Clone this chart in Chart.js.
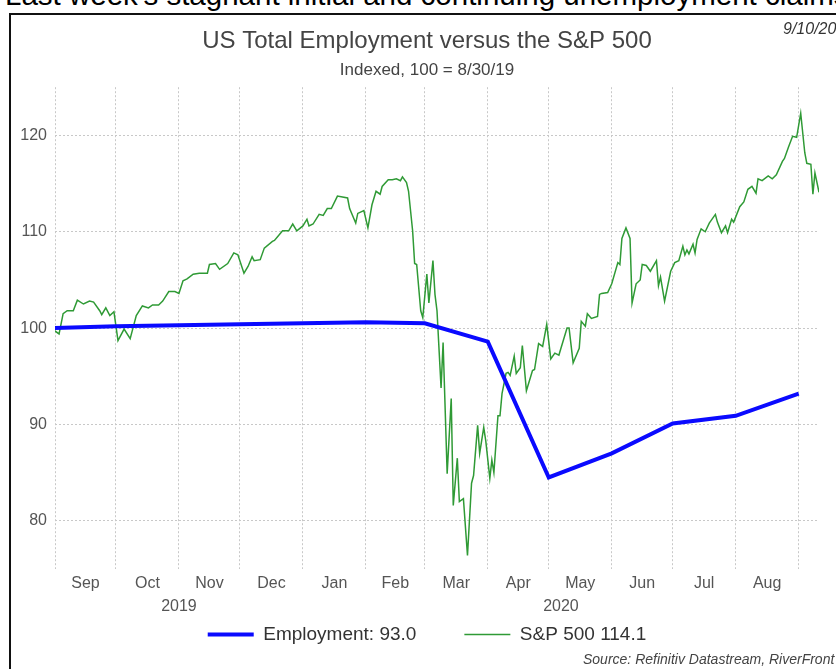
<!DOCTYPE html>
<html>
<head>
<meta charset="utf-8">
<script src="https://cdn.jsdelivr.net/npm/chart.js@4.4.1/dist/chart.umd.min.js"></script>
<style>
    html, body { margin: 0; padding: 0; background: #fff; }
    body { width: 836px; height: 669px; overflow: hidden; position: relative; font-family: "Liberation Sans", Arial, sans-serif; }
    #headline { position: absolute; left: 5px; top: -20px; font-size: 29.5px; line-height: 29px; color: #000; white-space: nowrap; }
    #frame { position: absolute; left: 9px; top: 13px; width: 900px; height: 700px; border: 2px solid #111; }
    #wrap { position: absolute; left: 11px; top: 15px; width: 832px; height: 654px; }
    #asof { position: absolute; left: 783px; top: 20px; font-size: 16px; font-style: italic; color: #333; white-space: nowrap; }
    #source { position: absolute; left: 583px; top: 651px; font-size: 14px; font-style: italic; color: #444; white-space: nowrap; }
</style>
</head>
<body>
<div id="headline">Last week's stagnant initial and continuing unemployment claims</div>
<div id="frame"></div>
<div id="wrap"><canvas id="chart" width="832" height="654"></canvas></div>
<div id="asof">9/10/20</div>
<div id="source">Source: Refinitiv Datastream, RiverFront</div>
<script>
    // x values are days since 8/30/19 (index base date)
    const monthStarts = [2, 32, 63, 93, 124, 155, 184, 215, 245, 276, 306, 337, 368];
    const monthMids = [17, 47.5, 78, 108.5, 139.5, 169.5, 199.5, 230, 260.5, 291, 321.5, 352.5];
    const monthLabels = ['Sep', 'Oct', 'Nov', 'Dec', 'Jan', 'Feb', 'Mar', 'Apr', 'May', 'Jun', 'Jul', 'Aug'];
    const yearMids = [63, 251];
    const yearLabels = ['2019', '2020'];
    const yTicks = [80, 90, 100, 110, 120];

    // Employment, monthly, indexed
    const empDays = [0, 32, 63, 93, 124, 155, 184, 215, 245, 276, 306, 337, 368];
    const empValues = [100.0, 100.2, 100.3, 100.4, 100.5, 100.6, 100.5, 98.6, 84.5, 87.0, 90.1, 90.9, 93.2];

    // S&P 500, indexed
    const spxDays = [0,4,6,8,11,13,16,19,21,24,25,27,29,31,33,36,39,42,45,48,
        50,53,55,58,61,63,65,67,70,73,77,78,81,83,87,90,92,95,97,99,
        100,103,105,109,110,114,117,119,121,124,126,127,129,132,134,136,138,141,146,147,
        150,151,154,156,158,160,162,163,166,168,170,172,173,175,176,178,179,180,182,183,
        185,186,188,189,190,192,193,195,197,198,200,201,203,205,207,208,210,211,213,214,
        216,217,218,220,221,222,224,225,226,228,229,231,232,234,237,238,240,242,244,246,
        248,250,251,254,255,257,260,261,263,264,266,269,270,271,274,276,279,280,281,283,
        285,286,288,290,291,293,295,298,299,300,302,305,307,309,311,312,313,314,316,317,
        318,320,322,324,327,328,330,332,333,335,336,339,341,343,345,347,348,350,353,355,
        357,360,361,363,365,367,369,371,372,374,375,376,378];
    const spxValues = [100.0,99.4,101.5,101.8,101.8,102.9,102.5,102.8,102.7,101.8,101.4,102.1,101.3,101.7,98.7,99.9,98.9,101.3,102.3,102.1,
        102.4,102.4,102.8,103.8,103.8,103.6,104.9,105.1,105.6,105.7,105.7,106.6,106.7,106.1,106.7,107.8,107.6,105.7,106.4,107.4,
        107.0,107.1,108.3,109.0,109.1,110.1,110.1,110.8,110.1,110.6,111.3,110.6,110.8,111.8,111.7,112.4,112.4,113.7,113.5,112.4,
        110.9,111.9,112.2,110.4,112.8,114.2,113.9,114.7,115.4,115.4,115.5,115.3,115.7,115.1,114.2,110.1,106.7,106.6,101.8,101.1,
        105.6,102.6,107.0,103.5,101.8,93.8,98.5,84.9,92.7,81.6,86.5,82.0,82.3,76.4,83.9,84.7,89.9,87.0,89.7,88.3,
        84.4,86.3,85.0,90.9,90.9,93.2,95.3,95.4,95.1,97.1,95.3,95.9,98.2,93.5,95.6,95.7,98.4,98.1,100.4,96.8,
        97.4,97.2,97.9,100.0,100.0,96.4,97.9,100.7,100.2,101.5,101.0,101.2,103.5,103.6,103.7,104.6,106.8,106.6,109.3,110.4,
        109.3,102.6,104.6,105.0,106.6,106.5,105.9,107.0,104.4,105.3,102.8,105.9,106.8,107.0,108.5,107.6,108.1,107.7,108.7,107.8,
        109.2,110.3,110.0,110.9,111.8,111.0,109.9,110.6,109.9,111.3,111.0,112.6,113.1,114.4,114.7,114.0,115.5,115.3,115.8,115.5,
        115.9,117.3,117.6,118.8,119.9,119.8,122.3,118.2,117.1,117.0,113.9,116.1,114.1];

    Chart.defaults.font.family = '"Liberation Sans", Arial, sans-serif';

    const gridColor = '#c8c8c8';
    const labelColor = '#555';

    const chart = new Chart(document.getElementById('chart').getContext('2d'), {
        type: 'line',
        data: {
            datasets: [
                {
                    label: 'Employment: 93.0',
                    data: empDays.map((d, i) => ({ x: d, y: empValues[i] })),
                    borderColor: '#0a0aff',
                    backgroundColor: '#0a0aff',
                    borderWidth: 4,
                    pointRadius: 0,
                    tension: 0,
                    xAxisID: 'x', yAxisID: 'y'
                },
                {
                    label: 'S&P 500 114.1',
                    data: spxDays.map((d, i) => ({ x: d, y: spxValues[i] })),
                    borderColor: '#2f9a35',
                    backgroundColor: '#2f9a35',
                    borderWidth: 1.5,
                    pointRadius: 0,
                    tension: 0,
                    xAxisID: 'x', yAxisID: 'y'
                }
            ]
        },
        options: {
            responsive: false,
            animation: false,
            devicePixelRatio: 1,
            layout: { padding: { left: 0, right: 0, top: 0, bottom: 15 } },
            plugins: {
                title: {
                    display: true,
                    text: 'US Total Employment versus the S&P 500',
                    color: '#444',
                    font: { size: 24, weight: 'normal' },
                    padding: { top: 12, bottom: 4 }
                },
                subtitle: {
                    display: true,
                    text: 'Indexed, 100 = 8/30/19',
                    color: '#444',
                    font: { size: 17 },
                    padding: { top: 0, bottom: 7 }
                },
                legend: {
                    position: 'bottom',
                    labels: {
                        usePointStyle: true,
                        pointStyle: 'line',
                        pointStyleWidth: 46,
                        boxWidth: 46,
                        color: '#333',
                        font: { size: 19 },
                        padding: 10,
                        generateLabels: (c) => {
                            const items = Chart.defaults.plugins.legend.labels.generateLabels(c);
                            items[0].text = items[0].text + '\u2003\u2003';
                            return items;
                        }
                    }
                },
                tooltip: { enabled: false }
            },
            scales: {
                x: {
                    type: 'linear', position: 'bottom', weight: 0,
                    min: 2, max: 378,
                    afterBuildTicks: s => { s.ticks = monthStarts.map(v => ({ value: v })); },
                    afterFit: s => { s.height = 0; },
                    ticks: { display: false },
                    grid: { color: gridColor, lineWidth: 1, drawTicks: false },
                    border: { display: false, dash: [2, 2] }
                },
                xMonth: {
                    type: 'linear', position: 'bottom', weight: 1,
                    min: 2, max: 378,
                    afterBuildTicks: s => { s.ticks = monthMids.map(v => ({ value: v })); },
                    afterFit: s => { s.height = 24; },
                    ticks: {
                        autoSkip: false, maxRotation: 0, padding: 5,
                        color: labelColor, font: { size: 16 },
                        callback: (v, i) => monthLabels[i]
                    },
                    grid: { display: false, drawTicks: false },
                    border: { display: false }
                },
                xYear: {
                    type: 'linear', position: 'bottom', weight: 2,
                    min: 2, max: 378,
                    afterBuildTicks: s => { s.ticks = yearMids.map(v => ({ value: v })); },
                    afterFit: s => { s.height = 22; },
                    ticks: {
                        autoSkip: false, maxRotation: 0, padding: 4,
                        color: labelColor, font: { size: 16 },
                        callback: (v, i) => yearLabels[i]
                    },
                    grid: { display: false, drawTicks: false },
                    border: { display: false }
                },
                y: {
                    type: 'linear', position: 'left',
                    min: 75, max: 125,
                    afterBuildTicks: s => { s.ticks = yTicks.map(v => ({ value: v })); },
                    afterFit: s => { s.width = 44; },
                    ticks: { color: labelColor, font: { size: 16 }, padding: 8 },
                    grid: { color: gridColor, lineWidth: 1, drawTicks: false },
                    border: { display: false, dash: [2, 2] }
                },
                // empty right axis, keeps a margin right of the plot
                yRight: {
                    type: 'linear', position: 'right',
                    min: 75, max: 125,
                    afterFit: s => { s.width = 24; },
                    ticks: { display: false },
                    grid: { display: false, drawTicks: false },
                    border: { display: false }
                }
            }
        }
    });
</script>
</body>
</html>
